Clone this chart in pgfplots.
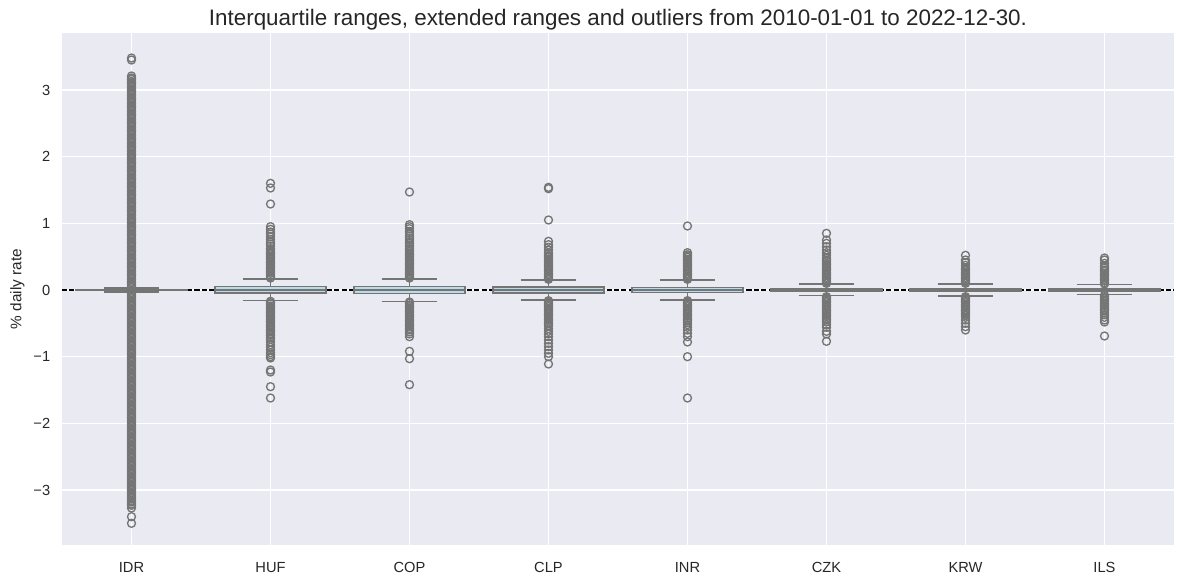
\documentclass[border=0pt]{standalone}
\usepackage{pgfplots}
\pgfplotsset{compat=1.18}
\usepgfplotslibrary{statistics}
\usepackage{fontspec}
\setmainfont{Liberation Sans}

\definecolor{bg}{HTML}{EAEAF2}
\definecolor{txt}{RGB}{38,38,38}
\definecolor{edge}{HTML}{757575}
\definecolor{boxfill}{HTML}{ADD8E6}

\pgfplotsset{
  fxbox/.style={
    boxplot prepared={#1, box extend=0.8, whisker extend=0.4, draw direction=y},
    draw=edge, line width=1pt, fill=boxfill, fill opacity=0.8,
    mark=o, mark size=3pt,
    mark options={draw=edge, fill=none, line width=1pt, fill opacity=0, solid},
  },
}

\begin{document}
\begin{tikzpicture}
\begin{axis}[
  scale only axis, width=834pt, height=384pt,
  xmin=-0.5, xmax=7.5, ymin=-3.825, ymax=3.855,
  axis background/.style={fill=bg},
  axis line style={draw=none},
  major tick length=0pt,
  grid=major, major grid style={white, line width=1pt},
  xtick={0,...,7},
  xticklabels={IDR,HUF,COP,CLP,INR,CZK,KRW,ILS},
  ytick={-3,...,3},
  yticklabels={−3,−2,−1,0,1,2,3},
  ticklabel style={font=\fontsize{11pt}{13pt}\selectfont, text=txt},
  xticklabel style={yshift=-9.5pt},
  yticklabel style={xshift=-5.3pt},
  ylabel={\% daily rate},
  every axis y label/.style={at={([xshift=-33.5pt]axis description cs:0,0.5)},
    rotate=90, anchor=center, font=\fontsize{11.5pt}{13pt}\selectfont, text=txt},
  title={Interquartile ranges, extended ranges and outliers from 2010-01-01 to 2022-12-30.},
  every axis title/.style={at={([yshift=5.25pt]axis description cs:0.5,1)}, anchor=base,
    font=\fontsize{16.8pt}{19pt}\selectfont, text=txt},
  clip=false,
]
\addplot[black, line width=1pt, dash pattern=on 3.85pt off 1.67pt] coordinates {(-0.5,0) (7.5,0)};

% IDR
\addplot[fxbox={draw position=0, lower whisker=-0.028, lower quartile=-0.007, median=0, upper quartile=0.008, upper whisker=0.03}]
table[row sep=\\, y index=0] {v\\
0.04\\0.06\\0.09\\0.11\\0.13\\0.16\\0.18\\0.21\\0.23\\0.25\\0.28\\0.3\\0.33\\0.35\\0.37\\0.4\\0.42\\0.45\\0.47\\0.49\\
0.52\\0.54\\0.57\\0.59\\0.61\\0.64\\0.66\\0.69\\0.71\\0.73\\0.76\\0.78\\0.81\\0.83\\0.85\\0.88\\0.9\\0.93\\0.95\\0.97\\
1.0\\1.02\\1.05\\1.07\\1.09\\1.12\\1.14\\1.17\\1.19\\1.21\\1.24\\1.26\\1.29\\1.31\\1.33\\1.36\\1.38\\1.41\\1.43\\1.45\\
1.48\\1.5\\1.53\\1.55\\1.57\\1.6\\1.62\\1.65\\1.67\\1.69\\1.72\\1.74\\1.77\\1.79\\1.81\\1.84\\1.86\\1.89\\1.91\\1.93\\
1.96\\1.98\\2.01\\2.03\\2.05\\2.08\\2.1\\2.13\\2.15\\2.17\\2.2\\2.22\\2.25\\2.27\\2.29\\2.32\\2.34\\2.37\\2.39\\2.41\\
2.44\\2.46\\2.49\\2.51\\2.53\\2.56\\2.58\\2.61\\2.63\\2.65\\2.68\\2.7\\2.73\\2.75\\2.77\\2.8\\2.82\\2.85\\2.87\\2.89\\
2.92\\2.94\\2.97\\2.99\\3.01\\3.04\\3.06\\3.09\\3.11\\3.13\\3.16\\3.18\\3.21\\3.45\\3.48\\
-0.04\\-0.06\\-0.09\\-0.11\\-0.13\\-0.16\\-0.18\\-0.21\\-0.23\\-0.25\\-0.28\\-0.3\\-0.33\\-0.35\\-0.37\\-0.4\\-0.42\\-0.45\\-0.47\\-0.49\\
-0.52\\-0.54\\-0.57\\-0.59\\-0.61\\-0.64\\-0.66\\-0.69\\-0.71\\-0.73\\-0.76\\-0.78\\-0.81\\-0.83\\-0.85\\-0.88\\-0.9\\-0.93\\-0.95\\-0.97\\
-1.0\\-1.02\\-1.05\\-1.07\\-1.09\\-1.12\\-1.14\\-1.17\\-1.19\\-1.21\\-1.24\\-1.26\\-1.29\\-1.31\\-1.33\\-1.36\\-1.38\\-1.41\\-1.43\\-1.45\\
-1.48\\-1.5\\-1.53\\-1.55\\-1.57\\-1.6\\-1.62\\-1.65\\-1.67\\-1.69\\-1.72\\-1.74\\-1.77\\-1.79\\-1.81\\-1.84\\-1.86\\-1.89\\-1.91\\-1.93\\
-1.96\\-1.98\\-2.01\\-2.03\\-2.05\\-2.08\\-2.1\\-2.13\\-2.15\\-2.17\\-2.2\\-2.22\\-2.25\\-2.27\\-2.29\\-2.32\\-2.34\\-2.37\\-2.39\\-2.41\\
-2.44\\-2.46\\-2.49\\-2.51\\-2.53\\-2.56\\-2.58\\-2.61\\-2.63\\-2.65\\-2.68\\-2.7\\-2.73\\-2.75\\-2.77\\-2.8\\-2.82\\-2.85\\-2.87\\-2.89\\
-2.92\\-2.94\\-2.97\\-2.99\\-3.01\\-3.04\\-3.06\\-3.09\\-3.11\\-3.13\\-3.16\\-3.18\\-3.21\\-3.23\\-3.27\\-3.4\\-3.5\\
};

% HUF
\addplot[fxbox={draw position=1, lower whisker=-0.16, lower quartile=-0.045, median=0, upper quartile=0.048, upper whisker=0.165}]
table[row sep=\\, y index=0] {v\\
0.18\\0.2\\0.22\\0.25\\0.27\\0.29\\0.32\\0.34\\0.36\\0.39\\0.41\\0.43\\0.46\\0.48\\0.5\\0.53\\0.55\\0.57\\0.6\\0.62\\
0.66\\0.69\\0.72\\0.76\\0.8\\0.84\\0.87\\0.91\\0.95\\1.29\\1.53\\1.6\\
-0.17\\-0.19\\-0.21\\-0.24\\-0.26\\-0.28\\-0.31\\-0.33\\-0.35\\-0.38\\-0.4\\-0.42\\-0.45\\-0.47\\-0.49\\-0.52\\-0.54\\-0.56\\-0.59\\-0.61\\
-0.63\\-0.66\\-0.68\\-0.71\\-0.74\\-0.78\\-0.82\\-0.86\\-0.9\\-0.94\\-0.97\\-1.0\\-1.02\\-1.2\\-1.23\\-1.45\\-1.62\\
};

% COP
\addplot[fxbox={draw position=2, lower whisker=-0.17, lower quartile=-0.05, median=0, upper quartile=0.05, upper whisker=0.165}]
table[row sep=\\, y index=0] {v\\
0.18\\0.2\\0.23\\0.25\\0.27\\0.3\\0.32\\0.34\\0.37\\0.39\\0.41\\0.44\\0.46\\0.48\\0.51\\0.53\\0.55\\0.58\\0.6\\0.62\\
0.65\\0.67\\0.7\\0.72\\0.75\\0.78\\0.81\\0.85\\0.88\\0.92\\0.95\\0.98\\1.47\\
-0.18\\-0.2\\-0.23\\-0.25\\-0.27\\-0.3\\-0.32\\-0.34\\-0.37\\-0.39\\-0.41\\-0.44\\-0.46\\-0.48\\-0.51\\-0.53\\-0.55\\-0.58\\-0.6\\-0.63\\
-0.66\\-0.7\\-0.92\\-1.03\\-1.42\\
};

% CLP
\addplot[fxbox={draw position=3, lower whisker=-0.15, lower quartile=-0.045, median=0, upper quartile=0.045, upper whisker=0.15}]
table[row sep=\\, y index=0] {v\\
0.16\\0.18\\0.21\\0.23\\0.25\\0.28\\0.3\\0.32\\0.35\\0.37\\0.39\\0.42\\0.44\\0.46\\0.49\\0.51\\0.54\\0.56\\0.6\\0.64\\
0.68\\0.73\\1.05\\1.52\\1.54\\
-0.16\\-0.18\\-0.21\\-0.23\\-0.25\\-0.28\\-0.3\\-0.32\\-0.35\\-0.37\\-0.39\\-0.42\\-0.44\\-0.46\\-0.49\\-0.51\\-0.54\\-0.58\\-0.62\\-0.66\\
-0.7\\-0.75\\-0.8\\-0.85\\-0.9\\-0.95\\-1.0\\-1.11\\
};

% INR
\addplot[fxbox={draw position=4, lower whisker=-0.15, lower quartile=-0.04, median=0, upper quartile=0.04, upper whisker=0.15}]
table[row sep=\\, y index=0] {v\\
0.16\\0.18\\0.21\\0.23\\0.25\\0.28\\0.3\\0.32\\0.35\\0.37\\0.39\\0.42\\0.44\\0.46\\0.49\\0.51\\0.53\\0.56\\0.96\\
-0.16\\-0.18\\-0.21\\-0.23\\-0.25\\-0.28\\-0.3\\-0.32\\-0.35\\-0.37\\-0.39\\-0.42\\-0.44\\-0.46\\-0.49\\-0.52\\-0.56\\-0.6\\-0.65\\-0.7\\
-0.78\\-1.0\\-1.62\\
};

% CZK
\addplot[fxbox={draw position=5, lower whisker=-0.08, lower quartile=-0.022, median=0, upper quartile=0.022, upper whisker=0.09}]
table[row sep=\\, y index=0] {v\\
0.1\\0.12\\0.15\\0.17\\0.19\\0.22\\0.24\\0.26\\0.29\\0.31\\0.33\\0.36\\0.38\\0.4\\0.43\\0.45\\0.48\\0.52\\0.56\\0.6\\
0.65\\0.7\\0.75\\0.85\\
-0.1\\-0.12\\-0.15\\-0.17\\-0.19\\-0.22\\-0.24\\-0.26\\-0.29\\-0.31\\-0.33\\-0.36\\-0.38\\-0.4\\-0.43\\-0.45\\-0.48\\-0.52\\-0.56\\-0.62\\
-0.66\\-0.77\\
};

% KRW
\addplot[fxbox={draw position=6, lower whisker=-0.09, lower quartile=-0.02, median=0, upper quartile=0.025, upper whisker=0.09}]
table[row sep=\\, y index=0] {v\\
0.1\\0.12\\0.15\\0.17\\0.19\\0.22\\0.24\\0.26\\0.29\\0.31\\0.33\\0.37\\0.41\\0.45\\0.52\\
-0.1\\-0.12\\-0.15\\-0.17\\-0.19\\-0.22\\-0.24\\-0.26\\-0.29\\-0.31\\-0.33\\-0.36\\-0.38\\-0.41\\-0.45\\-0.5\\-0.55\\-0.6\\
};

% ILS
\addplot[fxbox={draw position=7, lower whisker=-0.07, lower quartile=-0.018, median=0, upper quartile=0.02, upper whisker=0.08}]
table[row sep=\\, y index=0] {v\\
0.09\\0.11\\0.14\\0.16\\0.18\\0.21\\0.23\\0.25\\0.28\\0.3\\0.33\\0.36\\0.4\\0.45\\0.48\\
-0.08\\-0.1\\-0.13\\-0.15\\-0.17\\-0.2\\-0.22\\-0.24\\-0.27\\-0.29\\-0.31\\-0.34\\-0.37\\-0.41\\-0.45\\-0.48\\-0.69\\
};
\end{axis}
\pgfresetboundingbox
\useasboundingbox (-46.5pt,-28.5pt) rectangle (840.75pt,408.75pt);
\end{tikzpicture}
\end{document}
